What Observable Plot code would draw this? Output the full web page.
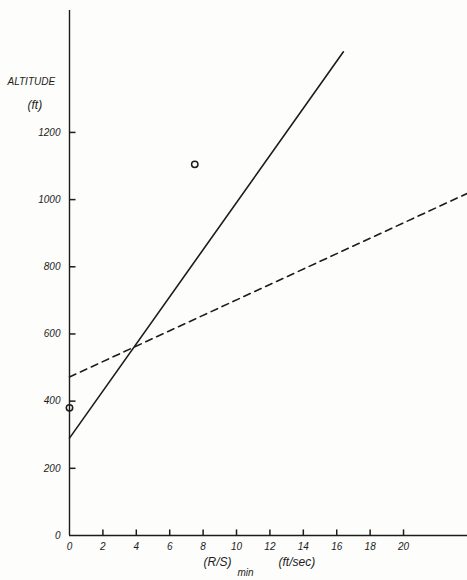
<!DOCTYPE html>
<html>
<head>
<meta charset="utf-8">
<script src="https://cdn.jsdelivr.net/npm/d3@7"></script>
<script src="https://cdn.jsdelivr.net/npm/@observablehq/plot@0.6"></script>
<style>
  html, body { margin: 0; padding: 0; background: #fdfdfb; }
  #chart svg { display: block; }
</style>
</head>
<body>
<div id="chart"></div>
<script>
// Tick values
const altitudeTicks = [0, 200, 400, 600, 800, 1000, 1200];
const rsTicks = [0, 2, 4, 6, 8, 10, 12, 14, 16, 18, 20];

// Solid line (fit)
const solidRS = [0, 16.4];
const solidAlt = [290, 1440];

// Dashed line
const dashedRS = [0, 23.8];
const dashedAlt = [472, 1018];

// Observed points
const pointRS = [0, 7.5];
const pointAlt = [380, 1105];

const solid = solidRS.map((x, i) => ({x, y: solidAlt[i]}));
const dashed = dashedRS.map((x, i) => ({x, y: dashedAlt[i]}));
const pts = pointRS.map((x, i) => ({x, y: pointAlt[i]}));

const ink = "#1c1c1c";
const font = "'Liberation Sans', 'DejaVu Sans', sans-serif";

const yTickMarks = altitudeTicks.filter(d => d > 0);
const xTickMarks = rsTicks.filter(d => d > 0);

const chart = Plot.plot({
  width: 467,
  height: 580,
  marginLeft: 69,
  marginRight: 0,
  marginTop: 10,
  marginBottom: 45,
  style: {background: "transparent", fontFamily: font, fontStyle: "italic", fontSize: "10px", color: ink},
  x: {domain: [0, 23.83], axis: null},
  y: {domain: [0, 1563], axis: null},
  marks: [
    // axis lines
    Plot.ruleX([0], {stroke: ink, strokeWidth: 1.4}),
    Plot.ruleY([0], {stroke: ink, strokeWidth: 1.4}),
    // inward tick marks
    Plot.link(yTickMarks, {x1: () => 0, x2: () => 0.36, y1: d => d, y2: d => d, stroke: ink, strokeWidth: 1.5}),
    Plot.link(xTickMarks, {x1: d => d, x2: d => d, y1: () => 0, y2: () => 18, stroke: ink, strokeWidth: 1.5}),
    // tick labels
    Plot.axisY(altitudeTicks, {tickSize: 0, tickPadding: 9, label: null, tickFormat: d => String(d), fontStyle: "italic", fontSize: 10}),
    Plot.axisX(rsTicks, {tickSize: 0, tickPadding: 7, label: null, tickFormat: d => String(d), fontStyle: "italic", fontSize: 10}),
    // lines
    Plot.line(solid, {x: "x", y: "y", stroke: ink, strokeWidth: 1.6}),
    Plot.line(dashed, {x: "x", y: "y", stroke: ink, strokeWidth: 1.6, strokeDasharray: "7,5"}),
    // points
    Plot.dot(pts, {x: "x", y: "y", r: 3.2, stroke: ink, strokeWidth: 1.5, fill: "none"}),
    // y-axis title
    Plot.text(["ALTITUDE"], {frameAnchor: "top-left", dx: -62, dy: 67, textAnchor: "start", fontSize: 10, fontStyle: "italic", fill: ink}),
    Plot.text(["(ft)"], {frameAnchor: "top-left", dx: -42, dy: 90, textAnchor: "start", fontSize: 12, fontStyle: "italic", fill: ink}),
    // x-axis title
    Plot.text(["(R/S)"], {frameAnchor: "bottom-left", dx: 134, dy: 30, textAnchor: "start", fontSize: 12, fontStyle: "italic", fill: ink}),
    Plot.text(["min"], {frameAnchor: "bottom-left", dx: 168, dy: 40, textAnchor: "start", fontSize: 10, fontStyle: "italic", fill: ink}),
    Plot.text(["(ft/sec)"], {frameAnchor: "bottom-left", dx: 209, dy: 30, textAnchor: "start", fontSize: 12, fontStyle: "italic", fill: ink})
  ]
});
document.getElementById("chart").appendChild(chart);
</script>
</body>
</html>
